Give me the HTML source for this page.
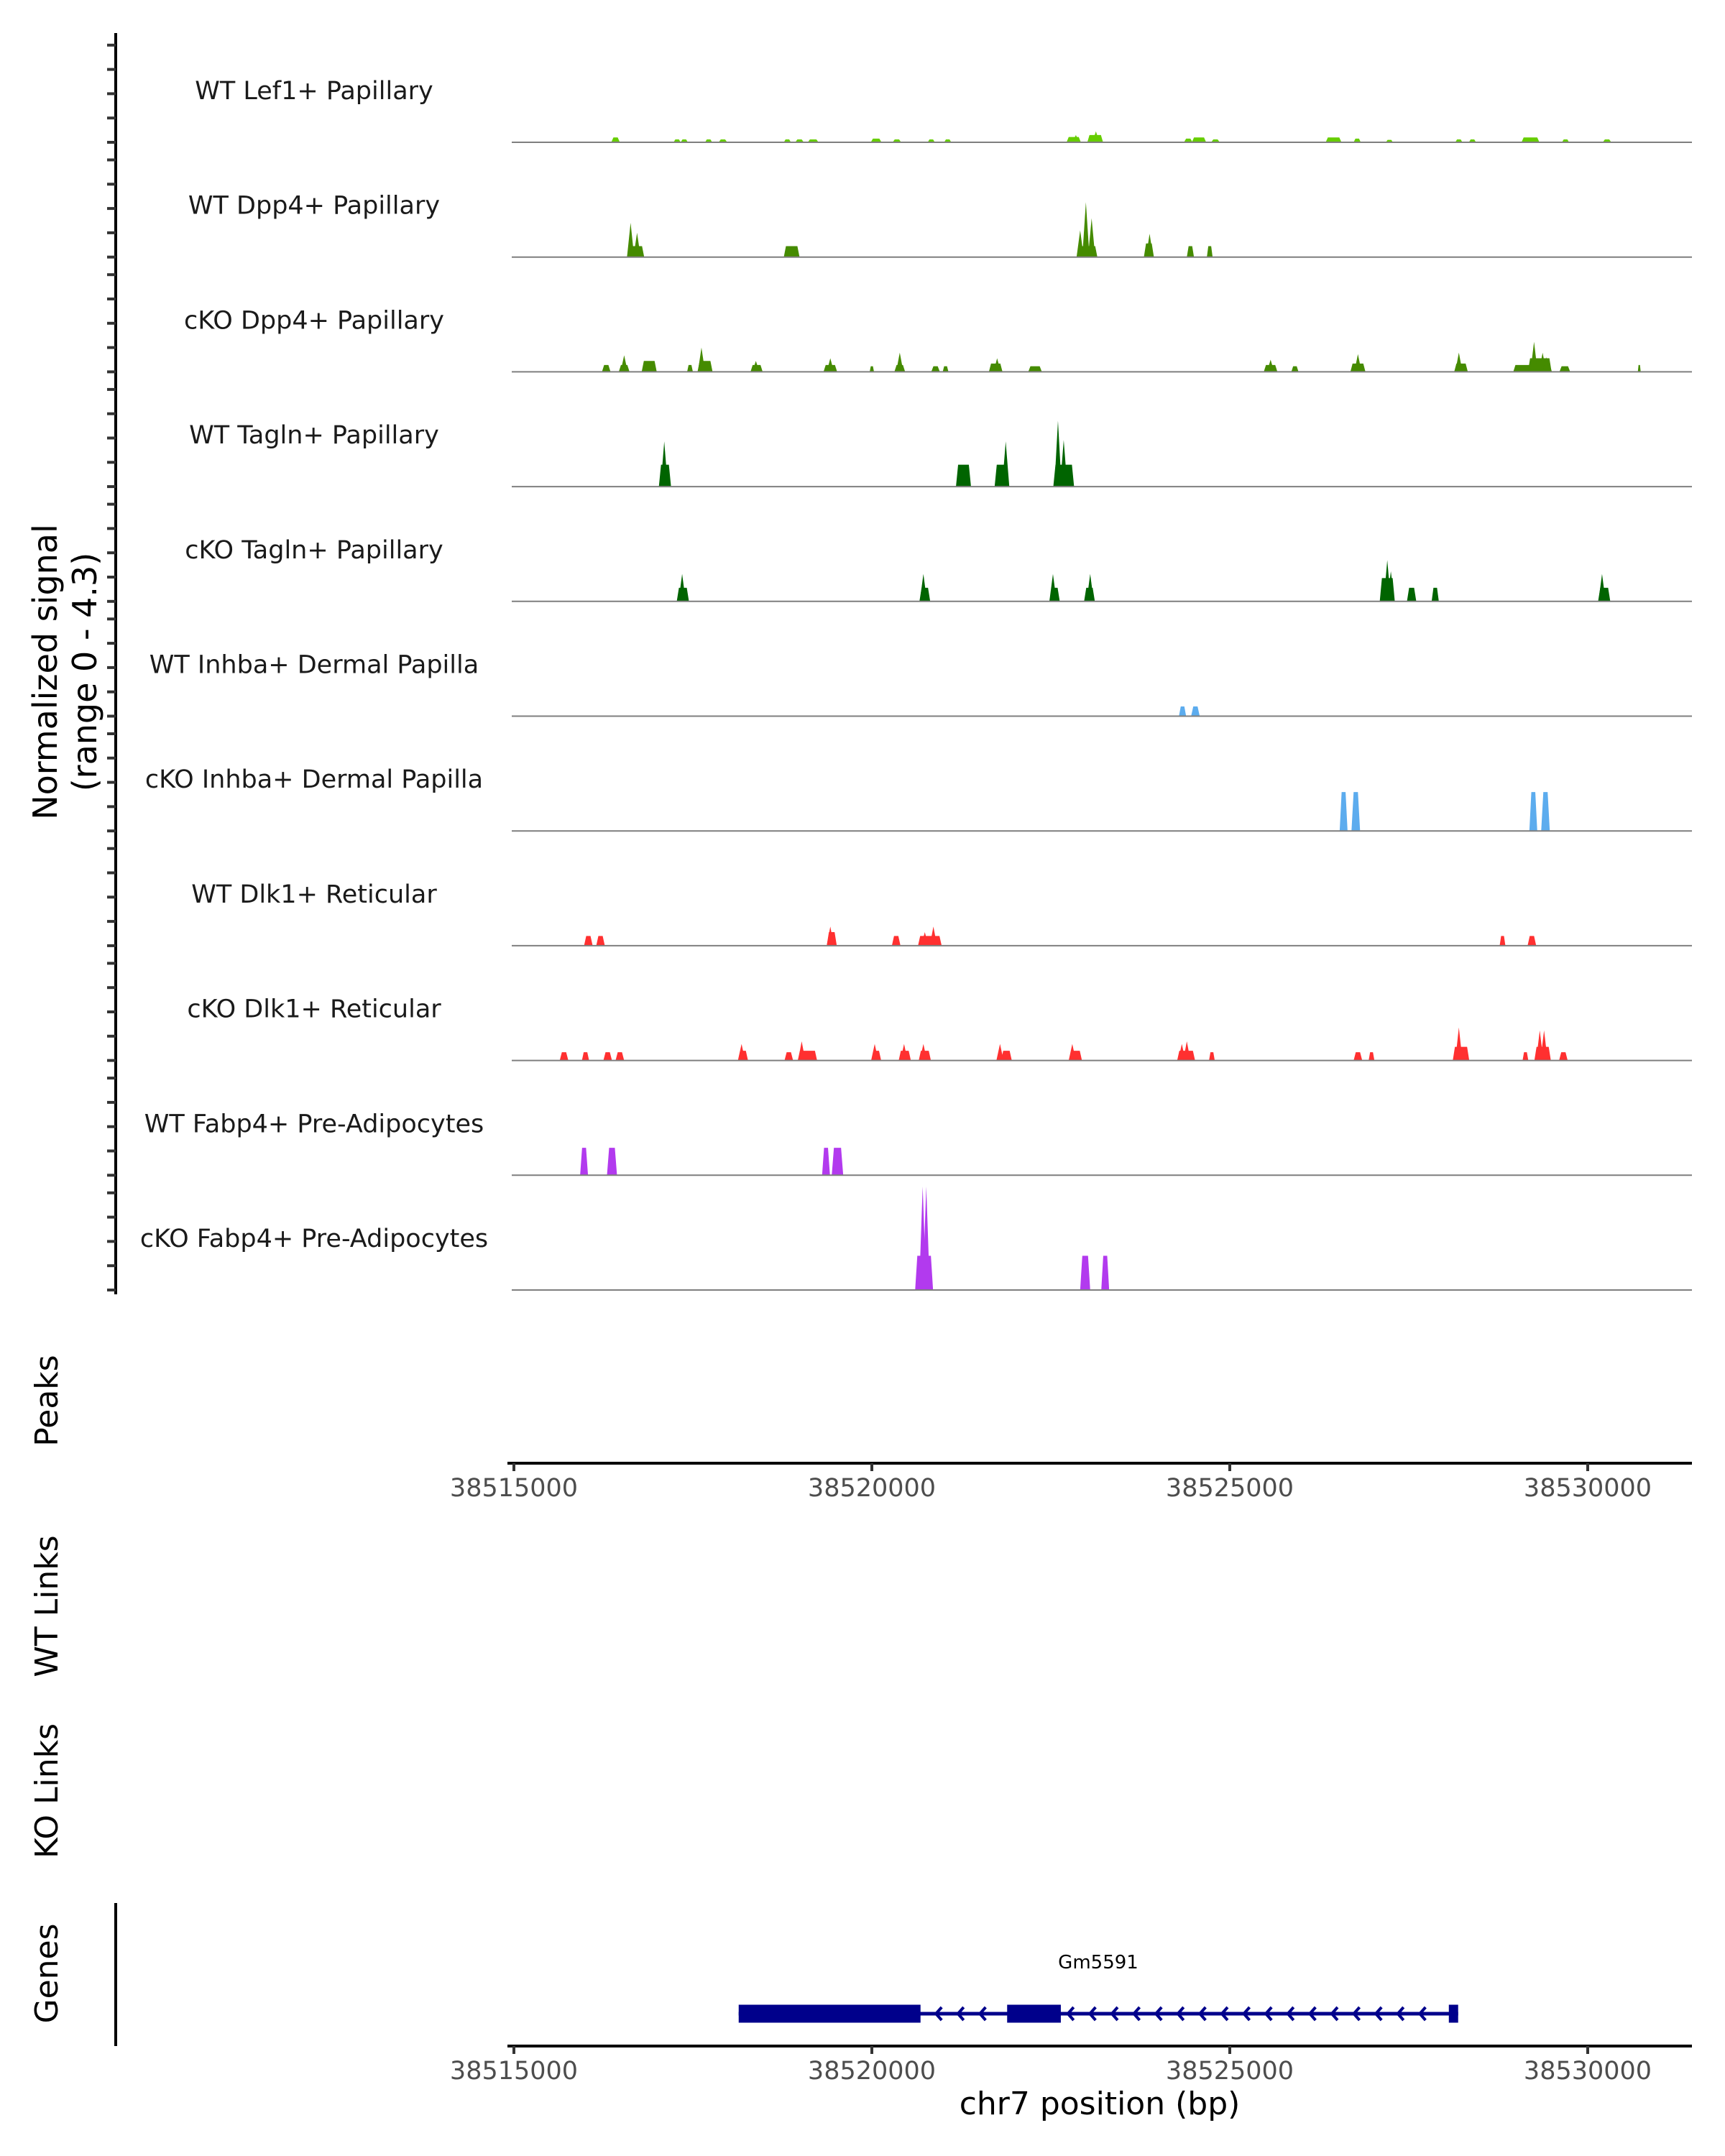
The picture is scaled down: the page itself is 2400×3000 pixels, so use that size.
<!DOCTYPE html>
<html><head><meta charset="utf-8"><style>
html,body{margin:0;padding:0;background:#fff}
svg{display:block}
text{font-family:"DejaVu Sans","Liberation Sans",sans-serif}
</style></head><body>
<svg id="chart" width="2400" height="3000" viewBox="0 0 2400 3000" xmlns="http://www.w3.org/2000/svg">
<rect width="2400" height="3000" fill="#fff"/>
<g id="tracks"></g>
<line x1="161" y1="46" x2="161" y2="1801" stroke="#000" stroke-width="4"/>
<g id="yticks"></g>
<text transform="translate(79,935) rotate(-90)" text-anchor="middle" font-size="46" fill="#000">Normalized signal</text>
<text transform="translate(134,935) rotate(-90)" text-anchor="middle" font-size="46" fill="#000">(range 0 - 4.3)</text>
<text transform="translate(80,1949) rotate(-90)" text-anchor="middle" font-size="44" fill="#000">Peaks</text>
<text transform="translate(80,2235) rotate(-90)" text-anchor="middle" font-size="44" fill="#000">WT Links</text>
<text transform="translate(80,2492) rotate(-90)" text-anchor="middle" font-size="44" fill="#000">KO Links</text>
<text transform="translate(80,2746) rotate(-90)" text-anchor="middle" font-size="44" fill="#000">Genes</text>
<line x1="161" y1="2648" x2="161" y2="2847" stroke="#000" stroke-width="4"/>
<g id="xaxes"></g>
<g id="gene"></g>
<text x="1530" y="2942" text-anchor="middle" font-size="44" fill="#000">chr7 position (bp)</text>
</svg>
<script>
// positions in kb offset from 38515000
const trackNames = ["WT Lef1+ Papillary","WT Dpp4+ Papillary","cKO Dpp4+ Papillary","WT Tagln+ Papillary","cKO Tagln+ Papillary","WT Inhba+ Dermal Papilla","cKO Inhba+ Dermal Papilla","WT Dlk1+ Reticular","cKO Dlk1+ Reticular","WT Fabp4+ Pre-Adipocytes","cKO Fabp4+ Pre-Adipocytes"];
const trackColors = ["#66cd00","#458b00","#458b00","#006400","#006400","#5cacee","#5cacee","#ff3030","#ff3030","#b23aee","#b23aee"];
// blocks: [centerKb, widthKb, height]
const blocksLef1 = [[1.42,.12,.2],[2.28,.1,.12],[2.38,.1,.12],[2.72,.1,.12],[2.92,.12,.12],[3.82,.1,.12],[3.99,.12,.12],[4.18,.15,.12],[5.06,.15,.15],[5.35,.12,.12],[5.83,.1,.12],[6.06,.1,.12],[7.82,.2,.22],[8.12,.22,.3],[9.42,.12,.15],[9.57,.2,.2],[9.80,.12,.12],[11.45,.22,.2],[11.78,.1,.15],[12.23,.1,.1],[13.20,.1,.12],[13.39,.1,.12],[14.20,.25,.2],[14.69,.1,.12],[15.27,.12,.12]];
const spikesLef1 = [[7.85,.3],[8.13,.45]];
const blocksWtDpp4 = [[1.70,.24,.45],[3.88,.22,.45],[8.01,.28,.45],[8.87,.14,.56],[9.45,.1,.45],[9.72,.08,.45]];
const spikesWtDpp4 = [[1.63,1.41],[1.72,1.0],[7.91,1.1],[7.99,2.26],[8.07,1.6],[8.88,.96]];
const blocksKoDpp4 = [[1.29,.12,.28],[1.54,.15,.28],[1.89,.21,.45],[2.46,.08,.28],[2.67,.21,.45],[3.39,.17,.28],[4.42,.19,.28],[5.00,.06,.23],[5.39,.15,.28],[5.89,.12,.23],[6.03,.08,.23],[6.73,.19,.34],[7.28,.19,.23],[10.57,.19,.28],[10.91,.1,.23],[11.79,.21,.34],[13.23,.19,.34],[14.23,.54,.28],[14.33,.33,.56],[14.68,.15,.23],[15.72,.04,.28]];
const spikesKoDpp4 = [[1.54,.68],[2.62,1.0],[3.38,.45],[4.42,.56],[5.39,.79],[6.75,.56],[10.57,.5],[11.79,.73],[13.20,.79],[14.25,1.24],[14.37,.79],[14.42,.6]];
const blocksWtTagln = [[2.11,.17,.9],[6.28,.21,.9],[6.81,.19,.9],[7.68,.29,.9]];
const spikesWtTagln = [[2.10,1.86],[6.87,1.86],[7.60,2.71],[7.68,1.92]];
const blocksKoTagln = [[2.36,.17,.56],[5.74,.15,.56],[7.56,.13,.56],[8.04,.15,.56],[12.2,.21,.96],[12.54,.13,.56],[12.87,.1,.56],[15.23,.17,.56]];
const spikesKoTagln = [[2.35,1.13],[5.72,1.13],[7.53,1.13],[8.05,1.13],[12.20,1.7],[12.25,1.24],[15.20,1.13]];
const blocksWtInhba = [[9.34,.1,.4],[9.52,.12,.4]];
const spikesWtInhba = [];
const blocksKoInhba = [[11.59,.11,1.6],[11.76,.12,1.6],[14.24,.11,1.6],[14.41,.12,1.6]];
const spikesKoInhba = [];
const blocksWtDlk1 = [[1.04,.12,.4],[1.21,.12,.4],[4.44,.14,.56],[5.34,.12,.4],[5.81,.33,.4],[13.81,.08,.4],[14.22,.12,.4]];
const spikesWtDlk1 = [[4.42,.79],[5.74,.56],[5.86,.79]];
const blocksKoDlk1 = [[.70,.12,.34],[1.00,.1,.34],[1.31,.12,.34],[1.48,.12,.34],[3.20,.14,.4],[3.84,.12,.34],[4.10,.27,.4],[5.07,.12,.4],[5.46,.17,.4],[5.74,.17,.4],[6.88,.15,.4],[7.85,.17,.4],[9.39,.25,.4],[9.75,.08,.34],[11.79,.12,.34],[11.98,.08,.34],[13.23,.23,.56],[14.13,.08,.34],[14.37,.23,.56],[14.66,.12,.34]];
const spikesKoDlk1 = [[3.18,.68],[4.02,.79],[5.04,.68],[5.45,.68],[5.72,.68],[6.79,.68],[7.80,.68],[9.33,.68],[9.40,.79],[13.20,1.36],[14.33,1.24],[14.39,1.24]];
const blocksWtFabp4 = [[.98,.11,1.13],[1.37,.14,1.13],[4.36,.11,1.13],[4.52,.16,1.13]];
const spikesWtFabp4 = [];
const blocksKoFabp4 = [[5.73,.25,1.41],[7.98,.14,1.41],[8.26,.11,1.41]];
const spikesKoFabp4 = [[5.71,4.26],[5.76,4.26]];
const trackBlocks = [blocksLef1,blocksWtDpp4,blocksKoDpp4,blocksWtTagln,blocksKoTagln,blocksWtInhba,blocksKoInhba,blocksWtDlk1,blocksKoDlk1,blocksWtFabp4,blocksKoFabp4];
const trackSpikes = [spikesLef1,spikesWtDpp4,spikesKoDpp4,spikesWtTagln,spikesKoTagln,spikesWtInhba,spikesKoInhba,spikesWtDlk1,spikesKoDlk1,spikesWtFabp4,spikesKoFabp4];
const xTickValues = [0,5,10,15];
const xTickLabels = ["38515000","38520000","38525000","38530000"];
const geneName = "Gm5591";
const geneStart = 3.14, geneEnd = 13.19;
const geneExons = [[3.14,5.68],[6.89,7.64],[13.06,13.19]];
const yTickValues = [0,1,2,3,4];

const NS="http://www.w3.org/2000/svg";
const X0=715, PXKB=99.6;
function x(kb){return X0+kb*PXKB;}
function base(i){return 198+159.7*i;}
const YU=33.8;
function y(i,v){return base(i)-v*YU;}
function mk(tag,attrs,parent){const e=document.createElementNS(NS,tag);for(const k in attrs)e.setAttribute(k,attrs[k]);parent.appendChild(e);return e;}

const tracks=document.getElementById('tracks');
const yt=document.getElementById('yticks');
trackNames.forEach((nm,i)=>{
  const g=mk('g',{},tracks);
  
  
  const lbl=mk('text',{x:437,y:base(i)-60,'text-anchor':'middle','font-size':35,fill:'#1a1a1a'},g);
  
  
  lbl.textContent=nm;
  const col=trackColors[i];
  trackBlocks[i].forEach(b=>{
    const s=x(b[0]-b[1]/2), e=x(b[0]+b[1]/2), t=y(i,b[2]), bb=base(i);
    const inset=Math.min(3,(e-s)/4);
    const p=mk('polygon',{points:`${s},${bb} ${s+inset},${t} ${e-inset},${t} ${e},${bb}`,fill:col},g);
    
    
  });
  trackSpikes[i].forEach(sp=>{
    const c=x(sp[0]), bb=base(i), t=y(i,sp[1]);
    const p=mk('polygon',{points:`${c-5},${bb} ${c},${t} ${c+5},${bb}`,fill:col},g);
    
    
  });
  const bl=mk('line',{x1:712,y1:base(i),x2:2354,y2:base(i),stroke:'#7f7f7f','stroke-width':2},g);
  
  
  yTickValues.forEach(v=>{
    const tk=mk('line',{x1:149,y1:y(i,v),x2:161,y2:y(i,v),stroke:'#333','stroke-width':4},yt);
    
    
  });
});

const xa=document.getElementById('xaxes');
[[2036,'top-x-axis'],[2847,'bottom-x-axis']].forEach(([ay,name])=>{
  const g=mk('g',{},xa);
  
  
  const ln=mk('line',{x1:706,y1:ay,x2:2354,y2:ay,stroke:'#000','stroke-width':4},g);
  
  
  xTickValues.forEach((v,k)=>{
    const tk=mk('line',{x1:x(v),y1:ay,x2:x(v),y2:ay+11,stroke:'#333','stroke-width':4},g);
    
    
    const tl=mk('text',{x:x(v),y:ay+46,'text-anchor':'middle','font-size':35,fill:'#4d4d4d'},g);
    
    
    tl.textContent=xTickLabels[k];
  });
});

const gg=document.getElementById('gene');
const GY=2802, NAVY='#00008b';
const gl=mk('line',{x1:x(geneStart),y1:GY,x2:x(geneEnd),y2:GY,stroke:NAVY,'stroke-width':5},gg);


geneExons.forEach(ex=>{
  const r=mk('rect',{x:x(ex[0]),y:GY-12.5,width:x(ex[1])-x(ex[0]),height:25,fill:NAVY},gg);
  
  
});
for(let cx=x(geneStart)+3;cx<x(geneEnd);cx+=30.6){
  const inExon=geneExons.some(ex=>cx>x(ex[0])-6&&cx<x(ex[1])+6);
  if(inExon)continue;
  const c=mk('path',{d:`M${cx+4},${GY-9} L${cx-4},${GY} L${cx+4},${GY+9}`,stroke:NAVY,'stroke-width':4,fill:'none'},gg);
  
  
}
const gn=mk('text',{x:1528,y:2739,'text-anchor':'middle','font-size':26,fill:'#000'},gg);


gn.textContent=geneName;
</script>
</body></html>
